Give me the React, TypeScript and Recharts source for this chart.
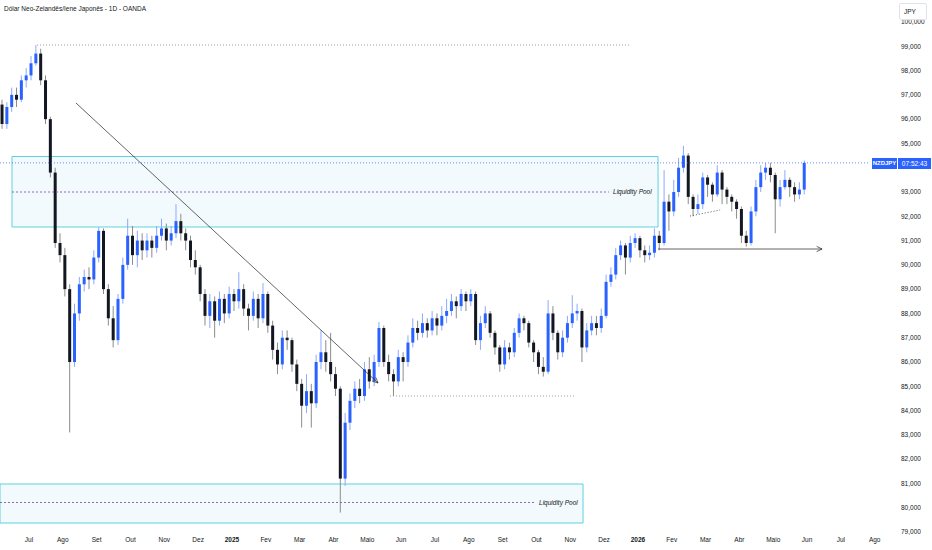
import {
  ComposedChart,
  Bar,
  XAxis,
  YAxis,
  ReferenceArea,
  ReferenceLine,
} from 'recharts';

// month labels on the time axis (Jul 2024 .. Ago 2026), one tick per month start
const monthLabels = [
  'Jul', 'Ago', 'Set', 'Out', 'Nov', 'Dez', '2025', 'Fev', 'Mar', 'Abr', 'Maio', 'Jun',
  'Jul', 'Ago', 'Set', 'Out', 'Nov', 'Dez', '2026', 'Fev', 'Mar', 'Abr', 'Maio', 'Jun', 'Jul', 'Ago',
];
// 94,000 sits under the last-price badge, so it is left out
const priceTicks = [79, 80, 81, 82, 83, 84, 85, 86, 87, 88, 89, 90, 91, 92, 93, 95, 96, 97, 98, 99, 100];

// candles: ~3 trading days each, 7 per month, first one early June 2024
const FIRST_OPEN = 96.6;
const closes = [
  95.8, 96.5, 97.0, 96.8, 97.6, 97.8, 98.3, 98.7, 97.6, 96.0,
  93.8, 90.9, 90.4, 89.0, 86.0, 88.0, 89.2, 89.5, 89.4, 90.3,
  91.4, 89.0, 87.8, 86.9, 88.6, 90.0, 91.2, 90.4, 91.0, 90.6,
  91.0, 90.7, 91.2, 91.5, 91.0, 91.3, 91.8, 91.3, 91.0, 90.2,
  89.9, 88.8, 87.9, 88.5, 87.7, 88.6, 88.0, 88.8, 88.5, 89.0,
  88.2, 87.9, 88.6, 87.8, 88.8, 87.5, 86.5, 85.9, 87.0, 86.9,
  85.9, 85.1, 84.2, 84.8, 84.3, 86.0, 86.4, 86.0, 85.5, 84.9,
  81.2, 83.5, 84.4, 84.9, 84.6, 85.7, 85.2, 86.0, 87.4, 86.0,
  85.5, 85.2, 86.2, 86.0, 86.8, 87.4, 87.2, 87.6, 87.3, 87.8,
  87.5, 87.9, 88.1, 88.5, 88.3, 88.8, 88.5, 88.8, 86.9, 87.6,
  88.0, 87.2, 86.6, 85.9, 86.6, 86.4, 87.2, 87.8, 87.6, 86.8,
  86.4, 85.8, 85.6, 88.0, 87.2, 86.4, 87.0, 87.6, 88.0, 88.1,
  86.6, 87.3, 87.6, 87.4, 87.9, 89.3, 89.6, 90.4, 90.8, 90.3,
  90.9, 91.1, 90.6, 90.4, 90.5, 91.2, 90.9, 92.6, 92.2, 93.0,
  94.0, 94.5, 92.8, 92.3, 92.5, 93.6, 93.3, 92.9, 93.8, 93.1,
  92.8, 92.6, 92.3, 91.2, 90.9, 92.2, 93.2, 93.8, 94.0, 93.7,
  92.7, 93.2, 93.5, 93.2, 92.9, 93.1, 94.2,
];
const highs = [
  96.8, 96.7, 97.3, 97.3, 97.8, 98.1, 98.6, 99.05, 98.9, 97.8,
  96.1, 94.0, 91.3, 90.7, 89.2, 88.4, 89.5, 89.8, 89.9, 90.6,
  91.55, 91.5, 89.2, 88.3, 88.8, 90.3, 91.9, 91.6, 91.4, 91.3,
  91.3, 91.2, 91.6, 91.9, 91.7, 91.6, 92.5, 92.1, 91.5, 91.2,
  90.6, 90.0, 89.0, 88.8, 88.7, 88.9, 88.8, 89.1, 89.0, 89.7,
  89.2, 88.4, 88.9, 88.8, 89.25, 88.9, 87.7, 86.8, 87.3, 87.3,
  87.0, 86.1, 85.3, 85.5, 85.1, 86.3, 87.3, 86.9, 87.2, 85.8,
  85.0, 83.9, 84.7, 85.2, 85.3, 86.0, 86.2, 86.3, 87.65, 87.5,
  86.3, 85.7, 86.5, 86.4, 87.1, 87.8, 87.7, 88.0, 87.8, 88.1,
  88.0, 88.3, 88.6, 88.8, 88.7, 89.0, 88.9, 89.0, 88.9, 87.9,
  88.3, 88.1, 87.3, 86.7, 86.9, 86.8, 87.4, 88.0, 87.9, 87.7,
  86.9, 86.5, 86.2, 88.55, 88.3, 87.3, 87.3, 87.9, 88.75, 88.4,
  88.2, 87.6, 87.9, 87.9, 88.2, 89.6, 89.9, 90.7, 91.0, 90.9,
  91.2, 91.3, 91.2, 90.8, 90.8, 91.5, 91.4, 93.9, 92.9, 93.5,
  94.4, 94.9, 94.6, 92.9, 92.9, 93.8, 93.7, 93.4, 94.1, 93.9,
  93.2, 92.9, 92.7, 92.4, 91.4, 92.4, 93.5, 94.1, 94.2, 94.2,
  93.8, 93.5, 93.9, 93.6, 93.4, 93.4, 94.3,
];
const lows = [
  95.6, 95.6, 96.3, 96.5, 96.7, 97.3, 97.6, 98.2, 97.4, 95.8,
  93.6, 90.7, 90.1, 88.7, 83.1, 85.8, 87.7, 88.9, 89.0, 89.2,
  90.1, 88.8, 87.5, 86.6, 86.7, 88.4, 89.8, 90.0, 89.9, 90.2,
  90.3, 90.3, 90.5, 91.0, 90.6, 90.8, 91.1, 91.0, 90.6, 89.9,
  89.6, 88.5, 87.5, 87.4, 87.0, 87.5, 87.6, 87.8, 88.1, 88.2,
  87.9, 87.3, 87.7, 87.4, 87.6, 87.2, 86.1, 85.5, 85.7, 86.5,
  85.6, 84.8, 83.3, 83.9, 83.3, 84.1, 85.7, 85.6, 85.2, 84.6,
  79.8, 80.9, 83.2, 84.1, 84.3, 84.4, 84.9, 85.0, 85.8, 85.8,
  85.2, 84.6, 85.0, 85.2, 85.8, 86.6, 86.9, 87.0, 87.0, 87.1,
  87.1, 87.3, 87.6, 87.9, 87.8, 88.1, 88.1, 88.3, 86.7, 86.5,
  87.4, 87.0, 86.3, 85.6, 85.7, 86.1, 86.2, 87.0, 87.3, 86.6,
  86.0, 85.5, 85.4, 85.5, 86.9, 86.1, 86.2, 86.8, 87.4, 87.7,
  86.0, 86.4, 87.1, 87.1, 87.2, 87.8, 89.1, 89.4, 90.2, 89.6,
  90.1, 90.7, 90.3, 90.1, 90.2, 90.3, 90.6, 90.8, 91.4, 92.0,
  92.8, 93.8, 92.5, 92.0, 92.1, 92.3, 92.8, 92.6, 92.8, 92.5,
  92.5, 92.2, 91.9, 90.9, 90.75, 90.8, 92.0, 93.0, 93.5, 93.4,
  91.3, 92.4, 93.1, 92.8, 92.6, 92.7, 92.9,
];

const LAST_PRICE = 94.2;
const CANDLE_START = 0.2; // in months after 1 Jun 2024
const PER_MONTH = 7;
const BODY = 3;

const UP = '#2962ff';
const DOWN = '#131722';

const candles = closes.map((c, i) => ({
  m: CANDLE_START + i / PER_MONTH,
  o: i === 0 ? FIRST_OPEN : closes[i - 1],
  c,
  range: [lows[i], highs[i]],
}));

const font = '"Liberation Sans", Arial, sans-serif';

function Candle(props: any) {
  const { x, y, width, height, payload } = props;
  if (!payload || y == null || height == null) return null;
  const [lo, hi] = payload.range;
  const top = Math.min(y, y + height);
  const h = Math.abs(height);
  const span = hi - lo || 1;
  const py = (v: number) => top + ((hi - v) / span) * h;
  const cx = x + width / 2;
  const up = payload.c >= payload.o;
  const bTop = py(Math.max(payload.o, payload.c));
  const bBot = py(Math.min(payload.o, payload.c));
  return (
    <g>
      <line x1={cx} x2={cx} y1={top} y2={top + h} stroke={up ? '#8ea8ff' : '#8c8c8c'} strokeWidth={1} />
      <rect x={cx - BODY / 2} y={bTop} width={BODY} height={Math.max(1, bBot - bTop)} fill={up ? UP : DOWN} />
    </g>
  );
}

function arrowLine(props: any) {
  const { x1, y1, x2, y2 } = props;
  const ang = Math.atan2(y2 - y1, x2 - x1);
  const L = 6;
  const a = 0.45;
  const p1 = `${x2 - L * Math.cos(ang - a)},${y2 - L * Math.sin(ang - a)}`;
  const p2 = `${x2 - L * Math.cos(ang + a)},${y2 - L * Math.sin(ang + a)}`;
  return (
    <g>
      <line x1={x1} y1={y1} x2={x2} y2={y2} stroke="#222" strokeWidth={0.7} />
      <polyline points={`${p1} ${x2},${y2} ${p2}`} fill="none" stroke="#222" strokeWidth={0.7} />
    </g>
  );
}

function MonthTick(props: any) {
  const { x, y, payload } = props;
  const label = monthLabels[payload.value - 1] ?? '';
  const bold = label.length === 4 && label.startsWith('20');
  return (
    <text x={x} y={y} dy={7} textAnchor="middle" fontSize={6.5} fontFamily={font} fill="#131722" fontWeight={bold ? 700 : 400}>
      {label}
    </text>
  );
}

const poolLabel = {
  value: 'Liquidity Pool',
  position: 'right' as const,
  offset: 4,
  fontSize: 6.5,
  fontStyle: 'italic',
  fontFamily: font,
  fill: '#131722',
};

export default function App() {
  return (
    <div style={{ position: 'relative', width: 932, height: 550, background: '#fff', fontFamily: font }}>
      <style>{'body{margin:0}'}</style>
      <ComposedChart width={932} height={550} data={candles} margin={{ top: 0, right: 0, left: 0, bottom: 0 }}>
        <XAxis
          dataKey="m"
          type="number"
          domain={[0.1427, 26.6]}
          ticks={monthLabels.map((_, i) => i + 1)}
          allowDataOverflow
          height={18}
          axisLine={false}
          tickLine={false}
          tick={<MonthTick />}
          tickSize={0}
          tickMargin={3}
          interval={0}
        />
        <YAxis
          orientation="right"
          type="number"
          domain={[79, 100.906]}
          ticks={priceTicks}
          allowDataOverflow
          width={37}
          axisLine={false}
          tickLine={false}
          tickSize={0}
          tickMargin={6}
          interval={0}
          tickFormatter={(v: number) => v.toFixed(3).replace('.', ',')}
          tick={{ fontSize: 6.5, fill: '#131722', fontFamily: font, textAnchor: 'start' }}
        />
        <ReferenceArea x1={0.4974} x2={19.595} y1={91.559} y2={94.462} fill="#f2fafd" fillOpacity={1} stroke="#5fd2df" strokeWidth={1} ifOverflow="visible" />
        <ReferenceArea x1={0.1427} x2={17.378} y1={79.37} y2={80.977} fill="#f2fafd" fillOpacity={1} stroke="#5fd2df" strokeWidth={1} ifOverflow="visible" />
        <ReferenceLine
          segment={[{ x: 0.5, y: 93.0 }, { x: 18.146, y: 93.0 }]}
          stroke="#9b62b8"
          strokeDasharray="2 2"
          label={poolLabel}
          ifOverflow="visible"
        />
        <ReferenceLine
          segment={[{ x: 0.1427, y: 80.215 }, { x: 15.96, y: 80.215 }]}
          stroke="#9b62b8"
          strokeDasharray="2 2"
          label={poolLabel}
          ifOverflow="visible"
        />
        <ReferenceLine segment={[{ x: 1.237, y: 99.053 }, { x: 18.77, y: 99.053 }]} stroke="#9a9ca3" strokeDasharray="1 2" ifOverflow="visible" />
        <ReferenceLine segment={[{ x: 11.67, y: 84.6 }, { x: 17.17, y: 84.6 }]} stroke="#9a9ca3" strokeDasharray="1 2" ifOverflow="visible" />
        <ReferenceLine segment={[{ x: 0.1427, y: LAST_PRICE }, { x: 25.86, y: LAST_PRICE }]} stroke="#2962ff" strokeOpacity={0.7} strokeDasharray="1 2" ifOverflow="visible" />
        <Bar dataKey="range" barSize={BODY} shape={<Candle />} isAnimationActive={false} />
        <ReferenceLine segment={[{ x: 20.54, y: 92.01 }, { x: 21.43, y: 92.26 }]} stroke="#555" strokeDasharray="1 2" ifOverflow="visible" />
        <ReferenceLine segment={[{ x: 2.389, y: 96.665 }, { x: 11.318, y: 85.135 }]} shape={arrowLine} ifOverflow="visible" />
        <ReferenceLine segment={[{ x: 19.595, y: 90.653 }, { x: 24.444, y: 90.653 }]} shape={arrowLine} ifOverflow="visible" />
      </ComposedChart>

      <div style={{ position: 'absolute', left: 4, top: 5, fontSize: 6.5, color: '#131722', whiteSpace: 'nowrap' }}>
        Dólar Neo-Zelandês/Iene Japonês - 1D - OANDA
      </div>
      <div
        style={{
          position: 'absolute', left: 899, top: 3, width: 28, height: 17, boxSizing: 'border-box',
          border: '1px solid #e0e3eb', borderRadius: 2, background: '#fff', fontSize: 6.5, color: '#131722',
          paddingLeft: 4, lineHeight: '15px',
        }}
      >
        JPY
      </div>
      <div
        style={{
          position: 'absolute', left: 872, top: 158, width: 25, height: 11, background: UP, color: '#fff',
          fontSize: 6, lineHeight: '11px', textAlign: 'center', fontWeight: 700,
        }}
      >
        NZDJPY
      </div>
      <div
        style={{
          position: 'absolute', left: 898, top: 158, width: 33, height: 11, background: UP, color: '#fff',
          fontSize: 6.5, lineHeight: '11px', textAlign: 'center',
        }}
      >
        07:52:43
      </div>
    </div>
  );
}
